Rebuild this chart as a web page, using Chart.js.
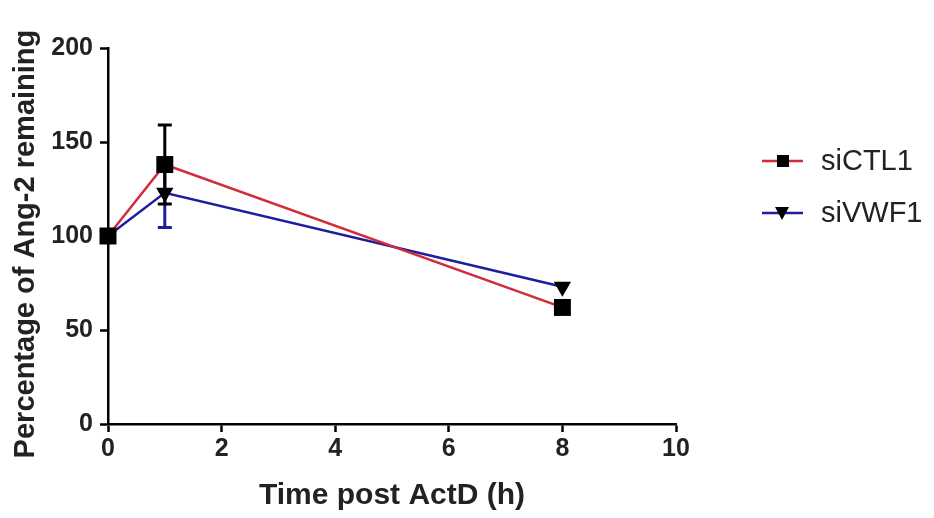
<!DOCTYPE html>
<html>
<head>
<meta charset="utf-8">
<script src="https://cdn.jsdelivr.net/npm/chart.js@4"></script>
<style>
html,body{margin:0;padding:0;background:#fff;}
#wrap{width:934px;height:518px;}
</style>
</head>
<body>
<div id="wrap"><canvas id="c" width="934" height="518"></canvas></div>
<script>
const timePoints = [0, 1, 8];
const seriesNames = ['siCTL1', 'siVWF1'];
const ctlValues = [100, 138, 62];
const ctlErrors = [0, 21, 0];
const vwfValues = [100, 123, 73];
const vwfErrors = [0, 18.5, 0];
const xTicks = [0, 2, 4, 6, 8, 10];
const yTicks = [0, 50, 100, 150, 200];

const RED = '#d22b3b';
const BLUE = '#1d1d9e';

const tickFont = {family: "'Liberation Sans Narrow', 'Liberation Sans', Arial, sans-serif", size: 25, weight: 'bold'};

const errorBars = {
  id: 'errorBars',
  beforeDatasetsDraw(chart) {
    const ctx = chart.ctx;
    const xs = chart.scales.x, ys = chart.scales.y;
    [1, 0].forEach(di => {
      const ds = chart.data.datasets[di];
      const errs = ds.errors;
      ctx.save();
      ctx.strokeStyle = ds.errorColor;
      ctx.lineWidth = 3;
      ds.data.forEach((p, i) => {
        const e = errs[i];
        if (!e) return;
        const px = xs.getPixelForValue(p.x);
        const yTop = ys.getPixelForValue(p.y + e);
        const yBot = ys.getPixelForValue(p.y - e);
        ctx.beginPath();
        ctx.moveTo(px, yTop); ctx.lineTo(px, yBot);
        ctx.moveTo(px - 7, yTop); ctx.lineTo(px + 7, yTop);
        ctx.moveTo(px - 7, yBot); ctx.lineTo(px + 7, yBot);
        ctx.stroke();
      });
      ctx.restore();
    });
  }
};

const customLegend = {
  id: 'customLegend',
  afterDraw(chart) {
    const ctx = chart.ctx;
    const rows = [161, 213];
    chart.data.datasets.forEach((ds, i) => {
      const y = rows[i];
      ctx.save();
      ctx.strokeStyle = ds.borderColor;
      ctx.lineWidth = 2.5;
      ctx.beginPath();
      ctx.moveTo(762, y); ctx.lineTo(803, y);
      ctx.stroke();
      ctx.fillStyle = '#000';
      ctx.beginPath();
      if (ds.pointStyle === 'rect') {
        ctx.fillRect(777, y - 6, 12, 12);
      } else {
        ctx.moveTo(775, y - 6); ctx.lineTo(789, y - 6); ctx.lineTo(782, y + 7);
        ctx.closePath(); ctx.fill();
      }
      ctx.fillStyle = '#222';
      ctx.font = "29px 'Liberation Sans', Arial, sans-serif";
      ctx.textBaseline = 'middle';
      ctx.fillText(ds.label, 821, y + 1);
      ctx.restore();
    });
  }
};

new Chart(document.getElementById('c'), {
  type: 'line',
  data: {
    datasets: [
      {
        label: seriesNames[0],
        data: timePoints.map((t, i) => ({x: t, y: ctlValues[i]})),
        errors: ctlErrors,
        errorColor: '#000',
        borderColor: RED,
        backgroundColor: '#000',
        borderWidth: 2.5,
        pointStyle: 'rect',
        pointRadius: 12,
        pointBackgroundColor: '#000',
        pointBorderColor: '#000',
        pointBorderWidth: 0,
        tension: 0,
        clip: false
      },
      {
        label: seriesNames[1],
        data: timePoints.map((t, i) => ({x: t, y: vwfValues[i]})),
        errors: vwfErrors,
        errorColor: BLUE,
        borderColor: BLUE,
        backgroundColor: '#000',
        borderWidth: 2.5,
        pointStyle: 'triangle',
        pointRotation: 180,
        pointRadius: 10,
        pointBackgroundColor: '#000',
        pointBorderColor: '#000',
        pointBorderWidth: 0,
        tension: 0,
        clip: false
      }
    ]
  },
  options: {
    responsive: false,
    animation: false,
    layout: {padding: {top: 48, right: 258, left: 0, bottom: 0}},
    plugins: {legend: {display: false}, tooltip: {enabled: false}},
    scales: {
      x: {
        type: 'linear',
        min: 0, max: 10,
        afterBuildTicks(s) { s.ticks = xTicks.map(v => ({value: v})); },
        afterFit(s) { s.height = 94; },
        border: {color: '#000', width: 2.5},
        grid: {drawOnChartArea: false, tickLength: 8, tickColor: '#000', tickWidth: 2.5},
        ticks: {color: '#222', font: tickFont, padding: 2, maxRotation: 0},
        title: {display: true, text: 'Time post ActD (h)', color: '#222',
          font: {family: "'Liberation Sans', Arial, sans-serif", size: 30, weight: 'bold'}, padding: {top: 0, bottom: 4}}
      },
      y: {
        min: 0, max: 200,
        afterBuildTicks(s) { s.ticks = yTicks.map(v => ({value: v})); },
        afterFit(s) { s.width = 108; },
        border: {color: '#000', width: 2.5},
        grid: {drawOnChartArea: false, tickLength: 8, tickColor: '#000', tickWidth: 2.5},
        ticks: {color: '#222', font: tickFont, padding: 7},
        title: {display: true, text: 'Percentage of Ang-2 remaining\u00a0\u00a0', color: '#222',
          font: {family: "'Liberation Sans', Arial, sans-serif", size: 29, weight: 'bold'}, padding: {top: 9, bottom: 0}}
      }
    }
  },
  plugins: [errorBars, customLegend]
});
</script>
</body>
</html>
